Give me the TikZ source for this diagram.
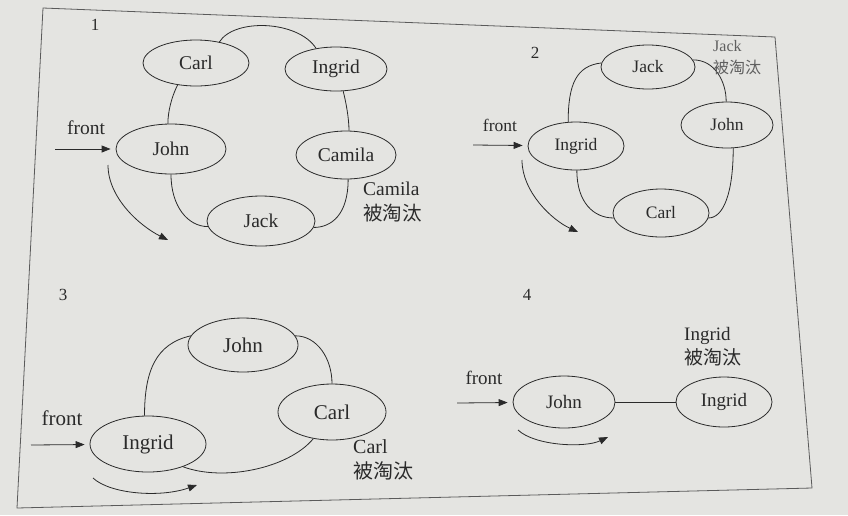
\documentclass[tikz,border=0pt]{standalone}
\usepackage{fontspec}
\setmainfont{Liberation Serif}
\newfontfamily\cjk{Noto Sans CJK SC}
\usetikzlibrary{shapes.geometric,arrows.meta}
\definecolor{ln}{HTML}{2A2A2A}
\definecolor{bg}{HTML}{E4E4E1}
\definecolor{frm}{HTML}{5A5A5A}
\begin{document}
\begin{tikzpicture}[x=1pt,y=-1pt,
  el/.style={draw=ln, ellipse, inner sep=0pt, line width=0.8pt, text=ln},
  lk/.style={draw=ln, line width=0.8pt},
  arr/.style={draw=ln, line width=0.8pt, -{Triangle[length=9pt,width=7pt]}},
  lbl/.style={text=ln, inner sep=0pt},
  fa/.style={font=\fontsize{19.5}{21}\selectfont},
  fb/.style={font=\fontsize{17.5}{19}\selectfont},
  fc/.style={font=\fontsize{21}{23}\selectfont},
  fd/.style={font=\fontsize{19}{21}\selectfont},
  num/.style={text=ln, font=\fontsize{17}{19}\selectfont, inner sep=0pt}]
\useasboundingbox (0,0) rectangle (848,515);
\fill[bg] (0,0) rectangle (848,515);
\draw[frm, line width=0.8pt] (43,8) -- (775,37) -- (812,488) -- (17,508) -- cycle;

% ---------- panel 1 ----------
\node[num] (n1) at (95,25) {1};
\node[el, fa, minimum width=106pt, minimum height=46pt] (c1) at (196,63) {Carl};
\node[el, fa, minimum width=102pt, minimum height=44pt] (i1) at (336,69) {Ingrid};
\node[el, fa, minimum width=110pt, minimum height=50pt] (j1) at (171,149) {John};
\node[el, fa, minimum width=100pt, minimum height=48pt] (ca1) at (346,155) {Camila};
\node[el, fa, minimum width=108pt, minimum height=50pt] (k1) at (261,221) {Jack};
\draw[lk] (c1.42) .. controls +(15,-24) and +(-18,-28) .. (i1.134);
\draw[lk] (c1.-130) .. controls +(-6,12) and +(0,-12) .. (j1.97);
\draw[lk] (i1.-72) .. controls +(3,12) and +(0,-12) .. (ca1.83);
\draw[lk] (j1.-90) .. controls +(0,32) and +(-20,0) .. (k1.186);
\draw[lk] (ca1.-85) .. controls +(0,35) and +(18,0) .. (k1.-7);
\node[lbl, fa] (fr1) at (86,128) {front};
\coordinate (a1s) at (55,149);
\draw[arr, shorten >=5pt] (a1s) -- (j1);
\coordinate (b1s) at (108,165);
\coordinate (b1e) at (168,240);
\draw[arr] (b1s) .. controls (108,198) and (140,226) .. (b1e);
\node[lbl, fa, anchor=west] (x1a) at (363,189) {Camila};
\node[lbl, fa, anchor=west] (x1b) at (363,213) {\cjk 被淘汰};

% ---------- panel 2 ----------
\node[num] (n2) at (535,53) {2};
\node[el, fb, minimum width=94pt, minimum height=44pt] (k2) at (648,67) {Jack};
\node[el, fb, minimum width=92pt, minimum height=46pt] (j2) at (727,125) {John};
\node[el, fb, minimum width=96pt, minimum height=48pt] (i2) at (576,146) {Ingrid};
\node[el, fb, minimum width=96pt, minimum height=48pt] (c2) at (661,213) {Carl};
\draw[lk] (i2.108) .. controls +(0,-38) and +(-25,3) .. (k2.175);
\draw[lk] (k2.9) .. controls +(22,0) and +(0,-20) .. (j2.92);
\draw[lk] (j2.-75) .. controls +(0,45) and +(15,0) .. (c2.-6);
\draw[lk] (i2.-88) .. controls +(0,32) and +(-20,0) .. (c2.186);
\node[lbl, fb] (fr2) at (500,125) {front};
\coordinate (a2s) at (473,145);
\draw[arr, shorten >=5pt] (a2s) -- (i2);
\coordinate (b2s) at (522,160);
\coordinate (b2e) at (578,232);
\draw[arr] (b2s) .. controls (522,192) and (552,220) .. (b2e);
\node[lbl, font=\fontsize{16}{18}\selectfont, text=ln!75, anchor=west] (x2a) at (713,46) {Jack};
\node[lbl, font=\fontsize{16}{18}\selectfont, text=ln!75, anchor=west] (x2b) at (713,67) {\cjk 被淘汰};

% ---------- panel 3 ----------
\node[num] (n3) at (63,295) {3};
\node[el, fc, minimum width=110pt, minimum height=54pt] (j3) at (243,345) {John};
\node[el, fc, minimum width=108pt, minimum height=56pt] (c3) at (332,412) {Carl};
\node[el, fc, minimum width=116pt, minimum height=56pt] (i3) at (148,444) {Ingrid};
\draw[lk] (i3.97) .. controls +(0,-45) and +(-35,8) .. (j3.170);
\draw[lk] (j3.10) .. controls +(22,0) and +(0,-25) .. (c3.90);
\draw[lk] (c3.-125) .. controls +(-25,30) and +(40,15) .. (i3.-33);
\node[lbl, fc] (fr3) at (62,418) {front};
\coordinate (a3s) at (31,445);
\draw[arr, shorten >=5pt] (a3s) -- (i3);
\coordinate (b3s) at (93,478);
\coordinate (b3e) at (197,485);
\draw[arr] (b3s) .. controls (110,494) and (160,498) .. (b3e);
\node[lbl, font=\fontsize{20}{22}\selectfont, anchor=west] (x3a) at (353,447) {Carl};
\node[lbl, font=\fontsize{20}{22}\selectfont, anchor=west] (x3b) at (353,471) {\cjk 被淘汰};

% ---------- panel 4 ----------
\node[num] (n4) at (527,295) {4};
\node[el, fd, minimum width=102pt, minimum height=52pt] (j4) at (564,402) {John};
\node[el, fd, minimum width=96pt, minimum height=50pt] (i4) at (724,402) {Ingrid};
\draw[lk] (j4) -- (i4);
\node[lbl, fd] (fr4) at (484,378) {front};
\coordinate (a4s) at (457,403);
\draw[arr, shorten >=5pt] (a4s) -- (j4);
\coordinate (b4s) at (518,430);
\coordinate (b4e) at (608,437);
\draw[arr] (b4s) .. controls (535,446) and (585,448) .. (b4e);
\node[lbl, fd, anchor=west] (x4a) at (684,336) {Ingrid};
\node[lbl, fd, anchor=west] (x4b) at (684,357) {\cjk 被淘汰};
\end{tikzpicture}
\end{document}
